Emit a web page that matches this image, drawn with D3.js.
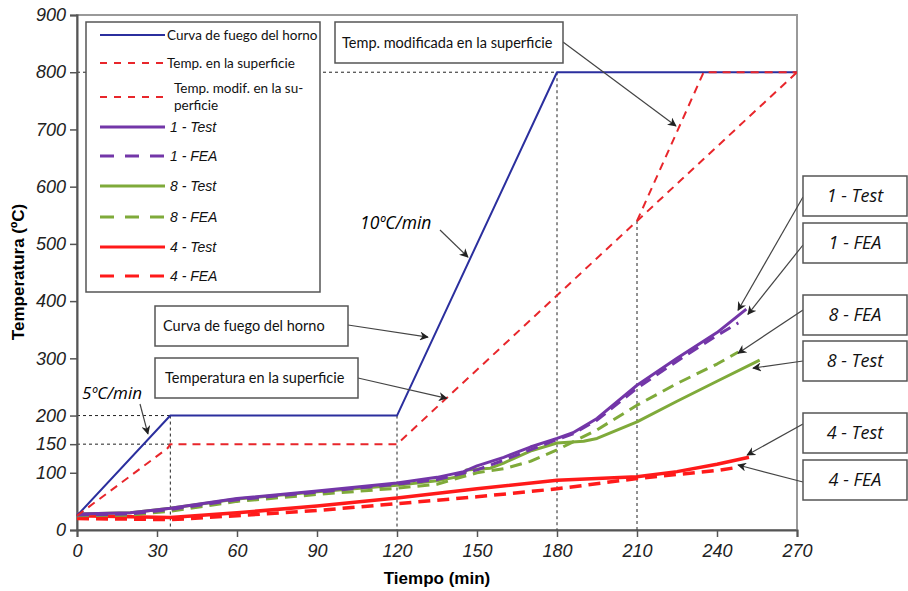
<!DOCTYPE html>
<html><head><meta charset="utf-8">
<script src="https://cdn.jsdelivr.net/npm/d3@7"></script>
<style>body{margin:0;background:#fff}</style>
</head><body>
<svg id="c" width="908" height="591"></svg>
<script>
// ---- data ----
const xTicks = [0,30,60,90,120,150,180,210,240,270];
const yTicks = [0,100,150,200,300,400,500,600,700,800,900];
const furnace = [[0,25],[35,200],[120,200],[180,800],[270,800]];
const surface = [[0,25],[34,143],[35,150],[120,150],[270,800]];
const surfaceMod = [[210,540],[235,800],[270,800]];
const test1 = [[0,28],[20,30],[35,38],[60,55],[90,68],[120,82],[135,92],[145,102],[150,112],[160,127],[170,145],[180,160],[186,170],[195,195],[210,253],[225,300],[240,345],[251,386]];
const fea1 = [[0,26],[20,28],[35,36],[60,53],[90,66],[120,80],[135,88],[150,105],[160,122],[170,140],[180,158],[186,168],[195,192],[210,248],[225,295],[240,340],[248,362]];
const test8 = [[0,28],[20,30],[35,38],[60,54],[90,67],[120,78],[135,86],[145,95],[146,105],[155,108],[160,117],[170,138],[180,152],[190,155],[195,160],[210,189],[225,225],[240,260],[256,297]];
const fea8 = [[0,25],[20,26],[35,33],[60,50],[90,62],[120,73],[135,80],[150,100],[160,107],[170,120],[180,140],[195,175],[210,218],[225,256],[240,290],[248,311]];
const test4 = [[0,25],[20,23],[35,22],[60,30],[90,42],[120,56],[150,72],[180,87],[210,93],[225,102],[240,115],[252,127]];
const fea4 = [[0,20],[20,19],[35,18],[60,25],[90,34],[120,46],[150,58],[180,72],[210,90],[225,97],[240,104],[247,109]];
const guideH = [[800,0,180],[200,0,35],[150,0,35]];
const guideV = [[35,200],[120,200],[180,800],[210,540]];

const svg = d3.select('#c');
const x = d3.scaleLinear([0,270],[77,797]);
const y = d3.scaleLinear([0,900],[530,15]);
const line = d3.line().x(d=>x(d[0])).y(d=>y(d[1]));

// frame
svg.append('rect').attr('x',x(0)).attr('y',y(900)).attr('width',x(270)-x(0)).attr('height',y(0)-y(900))
  .attr('fill','none').attr('stroke','#999').attr('stroke-width',2);

// guides
svg.selectAll('.gh').data(guideH).enter().append('line')
  .attr('x1',d=>x(d[1])).attr('x2',d=>x(d[2])).attr('y1',d=>y(d[0])).attr('y2',d=>y(d[0]))
  .attr('stroke','#222').attr('stroke-width',1).attr('stroke-dasharray','3,3');
svg.selectAll('.gv').data(guideV).enter().append('line')
  .attr('x1',d=>x(d[0])).attr('x2',d=>x(d[0])).attr('y1',d=>y(d[1])).attr('y2',y(0))
  .attr('stroke','#222').attr('stroke-width',1).attr('stroke-dasharray','3,3');

// axes
const ax = svg.append('g').attr('transform',`translate(0,${y(0)})`)
  .call(d3.axisBottom(x).tickValues(xTicks).tickSize(7).tickPadding(4));
const ay = svg.append('g').attr('transform',`translate(${x(0)},0)`)
  .call(d3.axisLeft(y).tickValues(yTicks).tickSize(7).tickPadding(4));
[ax,ay].forEach(g=>{
  g.select('.domain').attr('stroke','#555').attr('stroke-width',2);
  g.selectAll('.tick line').attr('stroke','#555').attr('stroke-width',1.5);
  g.selectAll('.tick text').attr('font-family','Liberation Sans, Arial').attr('font-style','italic')
    .attr('font-size',18).attr('fill','#222');
});
ax.selectAll('.tick text').attr('dy','0.9em');

svg.append('text').attr('x',437).attr('y',584).attr('text-anchor','middle')
  .attr('font-family','Liberation Sans, Arial').attr('font-weight','bold').attr('font-size',17)
  .text('Tiempo (min)');
svg.append('text').attr('transform','translate(24,272) rotate(-90)').attr('text-anchor','middle')
  .attr('font-family','Liberation Sans, Arial').attr('font-weight','bold').attr('font-size',17)
  .text('Temperatura (ºC)');

// series
const blue='#2B2F9E', redD='#E8262B', purple='#7336A8', green='#7FAA3A', red='#FF1A1A';
function path(data,color,w,dash){
  svg.append('path').attr('d',line(data)).attr('fill','none').attr('stroke',color)
    .attr('stroke-width',w).attr('stroke-dasharray',dash||null).attr('stroke-linejoin','round');
}
path(fea4,red,3.5,'12,7');
path(test4,red,3.5);
path(fea8,green,3,'12,7');
path(test8,green,3);
path(fea1,purple,3,'12,7');
path(test1,purple,3);
path(furnace,blue,2);
path(surface,redD,2,'8,6');
path(surfaceMod,redD,2,'8,6');

// arrow marker
svg.append('defs').append('marker').attr('id','ar').attr('viewBox','0 0 10 10').attr('refX',9).attr('refY',5)
  .attr('markerWidth',9).attr('markerHeight',9).attr('orient','auto').attr('markerUnits','userSpaceOnUse')
  .append('path').attr('d','M0,0 L10,5 L0,10 L3,5 Z').attr('fill','#222');

function arrow(px,py,tx,ty){
  svg.append('line').attr('x1',px).attr('y1',py).attr('x2',x(tx)).attr('y2',y(ty))
    .attr('stroke','#444').attr('stroke-width',1.2).attr('marker-end','url(#ar)');
}
function box(x0,y0,w,h,label,opts){
  svg.append('rect').attr('x',x0).attr('y',y0).attr('width',w).attr('height',h)
    .attr('fill','#fff').attr('stroke','#555').attr('stroke-width',1.5);
  svg.append('text').attr('x',opts.anchor==='middle'?x0+w/2:x0+opts.pad).attr('y',y0+h/2)
    .attr('dy','0.35em').attr('text-anchor',opts.anchor||'start')
    .attr('font-family',opts.font||'Lato, Open Sans').attr('font-size',opts.size||14.5)
    .attr('font-style',opts.italic?'italic':'normal').attr('fill','#111').text(label);
}

// annotation boxes
arrow(563,42,224.6,706); box(335,22,228,41,'Temp. modificada en la superficie',{pad:7});
arrow(348,325,131.6,337); box(155,306,193,40,'Curva de fuego del horno',{pad:8});
arrow(358,378,138.7,230); box(155,358,203,40,'Temperatura en la superficie',{pad:10});
arrow(440,230,146.6,477);
svg.append('text').attr('x',360).attr('y',229).attr('font-family','Open Sans, Lato').attr('font-style','italic')
  .attr('font-size',17.5).text('10ºC/min');
arrow(140,404,26.6,168);
svg.append('text').attr('x',82).attr('y',399).attr('font-family','Open Sans, Lato').attr('font-style','italic')
  .attr('font-size',17).text('5ºC/min');

// right labels
const rl = [
  ['1 - Test',176,197,247.9,384],['1 - FEA',223,245,251.6,377],
  ['8 - FEA',295,310,247.9,309],['8 - Test',341,361,253.5,283],
  ['4 - Test',413,424,251.3,131],['4 - FEA',460,482,247.9,113.6]];
rl.forEach(r=>{ arrow(803,r[2],r[3],r[4]); });
rl.forEach(r=>{ box(803,r[1],104,40,r[0],{anchor:'middle',italic:true,size:18,font:'Open Sans, Lato'}); });

// legend
svg.append('rect').attr('x',86).attr('y',22).attr('width',234).attr('height',270)
  .attr('fill','#fff').attr('stroke','#555').attr('stroke-width',1.5);
const leg = [
  {t:['Curva de fuego del horno'],c:blue,w:2,d:null,y:35,f:'n'},
  {t:['Temp. en la superficie'],c:redD,w:2,d:'7,7',y:63,f:'n'},
  {t:['Temp. modif. en la su-','perficie'],c:redD,w:2,d:'7,7',y:97,f:'n'},
  {t:['1 - Test'],c:purple,w:3,d:null,y:127,f:'i'},
  {t:['1 - FEA'],c:purple,w:3,d:'14,11',y:156,f:'i'},
  {t:['8 - Test'],c:green,w:3,d:null,y:186,f:'i'},
  {t:['8 - FEA'],c:green,w:3,d:'14,11',y:217,f:'i'},
  {t:['4 - Test'],c:red,w:3,d:null,y:247,f:'i'},
  {t:['4 - FEA'],c:red,w:3,d:'14,11',y:276,f:'i'}];
leg.forEach(l=>{
  svg.append('line').attr('x1',100).attr('x2',165).attr('y1',l.y).attr('y2',l.y)
    .attr('stroke',l.c).attr('stroke-width',l.w).attr('stroke-dasharray',l.d);
  const t = svg.append('text').attr('fill','#111');
  if(l.f==='n'){
    t.attr('font-family','Lato, Open Sans').attr('font-size',13.5);
    if(l.t.length===1){ t.attr('x',167).attr('y',l.y).attr('dy','0.35em').text(l.t[0]); }
    else { t.append('tspan').attr('x',174).attr('y',l.y-9).attr('dy','0.35em').text(l.t[0]);
           t.append('tspan').attr('x',174).attr('y',l.y+8).attr('dy','0.35em').text(l.t[1]); }
  } else {
    t.attr('font-family','Liberation Sans, Arial').attr('font-style','italic').attr('font-size',14)
      .attr('x',170).attr('y',l.y).attr('dy','0.35em').text(l.t[0]);
  }
});
</script>
</body></html>
